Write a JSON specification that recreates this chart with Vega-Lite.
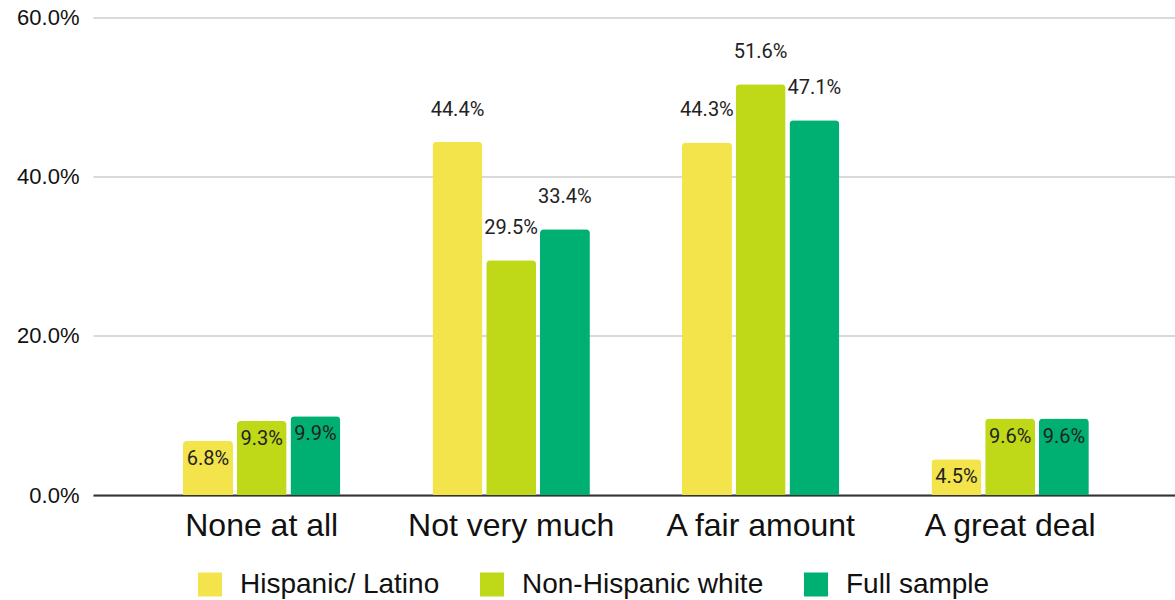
{
  "$schema": "https://vega.github.io/schema/vega-lite/v6.json",
  "width": 1082,
  "height": 477.5,
  "autosize": {"type": "none"},
  "padding": {"left": 93, "top": 17.5, "right": 0, "bottom": 105},
  "background": "white",
  "config": {"view": {"stroke": null}},
  "data": {
    "values": [
      {"category": "None at all", "group": "Hispanic/ Latino", "value": 0.068},
      {"category": "None at all", "group": "Non-Hispanic white", "value": 0.093},
      {"category": "None at all", "group": "Full sample", "value": 0.099},
      {"category": "Not very much", "group": "Hispanic/ Latino", "value": 0.444},
      {"category": "Not very much", "group": "Non-Hispanic white", "value": 0.295},
      {"category": "Not very much", "group": "Full sample", "value": 0.334},
      {"category": "A fair amount", "group": "Hispanic/ Latino", "value": 0.443},
      {"category": "A fair amount", "group": "Non-Hispanic white", "value": 0.516},
      {"category": "A fair amount", "group": "Full sample", "value": 0.471},
      {"category": "A great deal", "group": "Hispanic/ Latino", "value": 0.045},
      {"category": "A great deal", "group": "Non-Hispanic white", "value": 0.096},
      {"category": "A great deal", "group": "Full sample", "value": 0.096}
    ]
  },
  "encoding": {
    "x": {
      "field": "category",
      "type": "nominal",
      "sort": ["None at all", "Not very much", "A fair amount", "A great deal"],
      "scale": {"paddingInner": 0.369, "paddingOuter": 0.353, "align": 0.511},
      "axis": {
        "title": null,
        "labelAngle": 0,
        "labelFont": "Liberation Sans",
        "labelFontSize": 32,
        "labelColor": "#111111",
        "labelPadding": 15,
        "labelLimit": 0,
        "ticks": false,
        "domain": true,
        "domainColor": "#333333",
        "domainWidth": 2,
        "grid": false
      }
    },
    "xOffset": {
      "field": "group",
      "type": "nominal",
      "sort": ["Hispanic/ Latino", "Non-Hispanic white", "Full sample"],
      "scale": {"paddingInner": 0.07, "paddingOuter": 0}
    },
    "y": {
      "field": "value",
      "type": "quantitative",
      "scale": {"domain": [0, 0.6], "nice": false},
      "axis": {
        "title": null,
        "format": ".1%",
        "values": [0, 0.2, 0.4, 0.6],
        "labelFont": "Liberation Sans",
        "labelFontSize": 22,
        "labelColor": "#111111",
        "labelPadding": 14,
        "ticks": false,
        "domain": false,
        "grid": true,
        "gridColor": "#cccccc",
        "gridWidth": 1.5
      }
    }
  },
  "layer": [
    {
      "mark": {"type": "bar", "cornerRadiusEnd": 4},
      "encoding": {
        "color": {
          "field": "group",
          "type": "nominal",
          "scale": {
            "domain": ["Hispanic/ Latino", "Non-Hispanic white", "Full sample"],
            "range": ["#F4E44B", "#BFD918", "#00AF72"]
          },
          "legend": {
            "title": null,
            "orient": "none",
            "direction": "horizontal",
            "legendX": 103,
            "legendY": 553,
            "padding": 0,
            "symbolType": "square",
            "symbolSize": 576,
            "symbolStrokeWidth": 0,
            "symbolOpacity": 1,
            "labelFont": "Liberation Sans",
            "labelFontSize": 28,
            "labelColor": "#111111",
            "labelOffset": 16,
            "labelLimit": 0,
            "columnPadding": 38
          }
        }
      }
    },
    {
      "transform": [{"filter": "datum.value >= 0.2"}],
      "mark": {"type": "text", "baseline": "middle", "align": "center", "dy": -32, "font": "Roboto", "fontSize": 20, "color": "#222222"},
      "encoding": {"text": {"field": "value", "type": "quantitative", "format": ".1%"}}
    },
    {
      "transform": [{"filter": "datum.value < 0.2"}],
      "mark": {"type": "text", "baseline": "middle", "align": "center", "dy": 18, "font": "Roboto", "fontSize": 20, "color": "#222222"},
      "encoding": {"text": {"field": "value", "type": "quantitative", "format": ".1%"}}
    }
  ]
}
